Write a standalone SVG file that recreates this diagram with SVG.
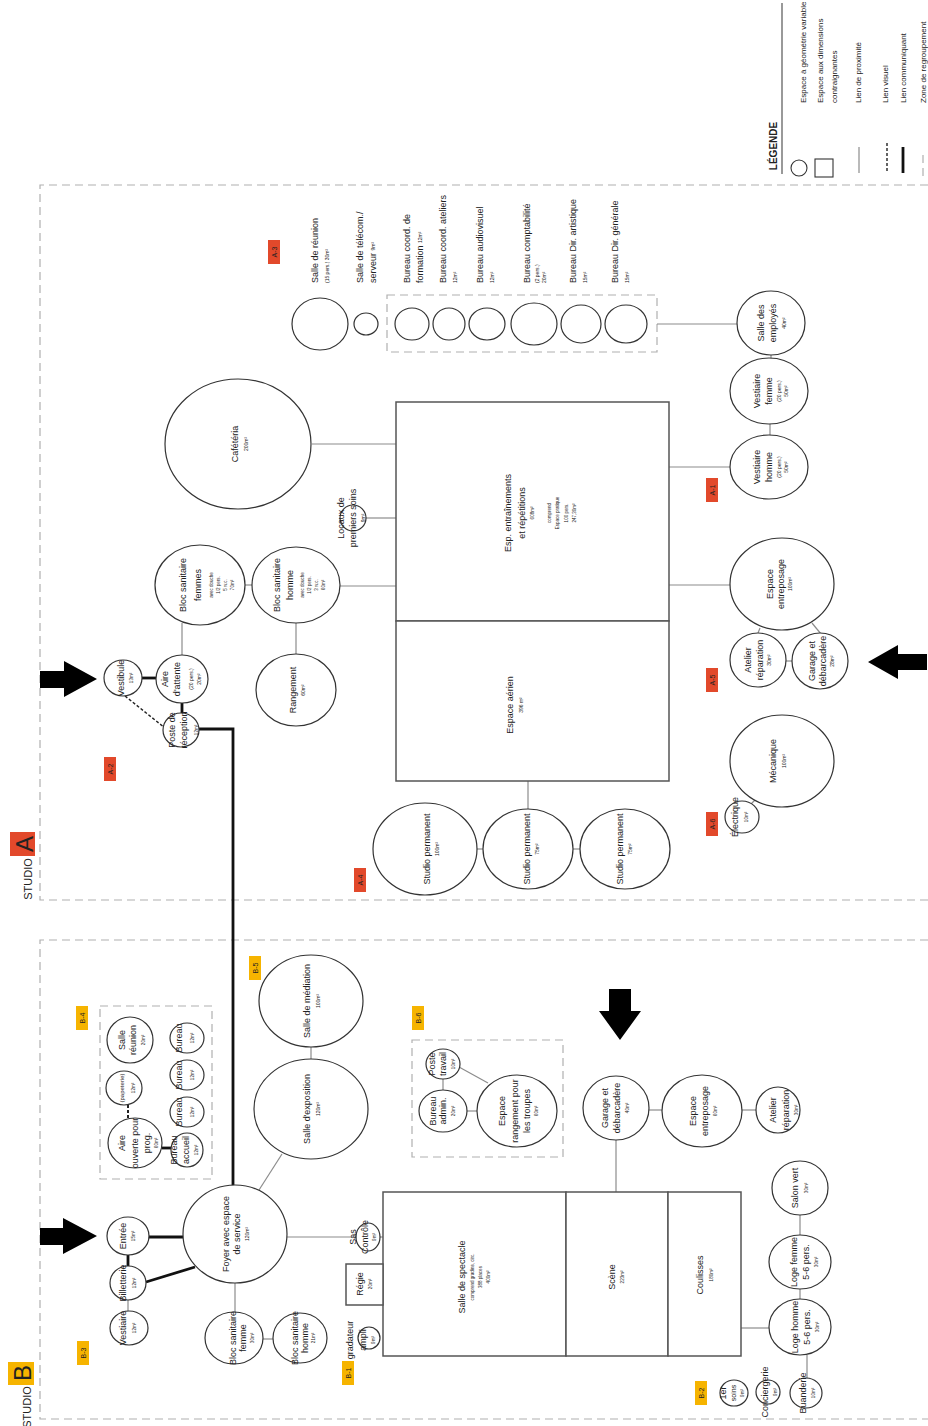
<svg xmlns="http://www.w3.org/2000/svg" width="928" height="1426" viewBox="0 0 928 1426">
<style>
.n{fill:#fff;stroke:#333;stroke-width:1.2}
.r{fill:#fff;stroke:#555;stroke-width:1.5}
.p{stroke:#8c8c8c;stroke-width:1.2;fill:none}
.k{stroke:#111;stroke-width:2.8;fill:none}
.v{stroke:#222;stroke-width:1.4;stroke-dasharray:3 2;fill:none}
.z{fill:none;stroke:#b0b0b0;stroke-width:1.2;stroke-dasharray:8 5}
text{font-family:"Liberation Sans",Arial,sans-serif;fill:#222;dominant-baseline:central}
.t{font-size:9px;text-anchor:middle}
.st{font-size:9px;text-anchor:start}
.s{font-size:5px}
.x{font-size:4.5px}
.la{fill:#e2492b}
.lb{fill:#f6b400}
.lt{font-size:7px;text-anchor:middle}
.ar{fill:#000}
</style>
<rect width="928" height="1426" fill="#fff"/>

<!-- zones -->
<g id="zones">
<path class="z" d="M928,185 H40 V900 H928"/>
<path class="z" d="M928,940 H40 V1419 H928"/>
<rect class="z" x="387" y="295" width="270" height="57"/>
<rect class="z" x="100" y="1006" width="112" height="173"/>
<rect class="z" x="412" y="1040" width="151" height="117"/>
</g>

<!-- legend -->
<g id="legend">
<line x1="782" y1="3" x2="782" y2="174" stroke="#555" stroke-width="1.2"/>
<text style="font-size:10px;font-weight:bold;text-anchor:middle" transform="translate(0 146) rotate(-90)" x="0" y="773">LÉGENDE</text>
<circle cx="799" cy="168" r="8" fill="none" stroke="#333" stroke-width="1.1"/>
<rect x="815" y="159" width="18" height="18" fill="none" stroke="#333" stroke-width="1.1"/>
<line class="p" x1="859" y1="147" x2="859" y2="173"/>
<line class="v" x1="887" y1="143" x2="887" y2="173"/>
<line class="k" x1="903" y1="147" x2="903" y2="173"/>
<line class="z" x1="923" y1="155" x2="923" y2="180"/>
<text style="font-size:8px;text-anchor:start" transform="translate(0 103) rotate(-90)"><tspan x="0" y="803">Espace à géométrie variable</tspan><tspan x="0" y="820">Espace aux dimensions</tspan><tspan x="0" y="834">contraignantes</tspan><tspan x="0" y="858">Lien de proximité</tspan><tspan x="0" y="885">Lien visuel</tspan><tspan x="0" y="903">Lien communiquant</tspan><tspan x="0" y="923">Zone de regroupement</tspan></text>
</g>

<!-- studio titles and zone labels -->
<g id="labels">
<rect class="la" x="10" y="832" width="25" height="24"/>
<text style="font-size:24px;text-anchor:middle" transform="translate(0 844) rotate(-90)" x="0" y="24">A</text>
<text style="font-size:11px;text-anchor:middle" transform="translate(0 879) rotate(-90)" x="0" y="28">STUDIO</text>
<rect class="lb" x="8" y="1362" width="26" height="23"/>
<text style="font-size:24px;text-anchor:middle" transform="translate(0 1373) rotate(-90)" x="0" y="22">B</text>
<text style="font-size:11px;text-anchor:middle" transform="translate(0 1407) rotate(-90)" x="0" y="27">STUDIO</text>

<rect class="la" x="268" y="240" width="12" height="24"/><text class="lt" transform="translate(0 252) rotate(-90)" x="0" y="274">A-3</text>
<rect class="la" x="104" y="757" width="12" height="24"/><text class="lt" transform="translate(0 769) rotate(-90)" x="0" y="110">A-2</text>
<rect class="la" x="706" y="478" width="12" height="24"/><text class="lt" transform="translate(0 490) rotate(-90)" x="0" y="712">A-1</text>
<rect class="la" x="706" y="668" width="12" height="24"/><text class="lt" transform="translate(0 680) rotate(-90)" x="0" y="712">A-5</text>
<rect class="la" x="706" y="812" width="12" height="24"/><text class="lt" transform="translate(0 824) rotate(-90)" x="0" y="712">A-6</text>
<rect class="la" x="354" y="868" width="12" height="24"/><text class="lt" transform="translate(0 880) rotate(-90)" x="0" y="360">A-4</text>
<rect class="lb" x="249" y="956" width="12" height="24"/><text class="lt" transform="translate(0 968) rotate(-90)" x="0" y="255">B-5</text>
<rect class="lb" x="76" y="1006" width="12" height="24"/><text class="lt" transform="translate(0 1018) rotate(-90)" x="0" y="82">B-4</text>
<rect class="lb" x="412" y="1006" width="12" height="24"/><text class="lt" transform="translate(0 1018) rotate(-90)" x="0" y="418">B-6</text>
<rect class="lb" x="77" y="1341" width="12" height="24"/><text class="lt" transform="translate(0 1353) rotate(-90)" x="0" y="83">B-3</text>
<rect class="lb" x="342" y="1361" width="12" height="24"/><text class="lt" transform="translate(0 1373) rotate(-90)" x="0" y="348">B-1</text>
<rect class="lb" x="695" y="1381" width="12" height="24"/><text class="lt" transform="translate(0 1393) rotate(-90)" x="0" y="701">B-2</text>
</g>

<!-- arrows -->
<g id="arrows">
<polygon class="ar" points="40,671 64,671 64,661 97,679 64,697 64,688 40,688"/>
<polygon class="ar" points="927,654 898,654 898,645 868,662 898,679 898,670 927,670"/>
<polygon class="ar" points="609,989 631,989 631,1011 641,1011 620,1040 599,1011 609,1011"/>
<polygon class="ar" points="40,1228 63,1228 63,1218 97,1236 63,1254 63,1245 40,1245"/>
</g>

<!-- connectors -->
<g id="connectors">
<line class="p" x1="312" y1="444" x2="396" y2="444"/>
<line class="p" x1="366" y1="518" x2="396" y2="518"/>
<line class="p" x1="245" y1="585" x2="252" y2="585"/>
<line class="p" x1="340" y1="586" x2="396" y2="586"/>
<line class="p" x1="182" y1="623" x2="182" y2="656"/>
<line class="p" x1="296" y1="623" x2="296" y2="654"/>
<line class="p" x1="669" y1="467" x2="730" y2="467"/>
<line class="p" x1="770" y1="423" x2="770" y2="436"/>
<line class="p" x1="771" y1="354" x2="771" y2="359"/>
<line class="p" x1="657" y1="324" x2="738" y2="324"/>
<line class="p" x1="669" y1="585" x2="730" y2="585"/>
<line class="p" x1="760" y1="628" x2="758" y2="633"/>
<line class="p" x1="812" y1="623" x2="821" y2="634"/>
<line class="p" x1="786" y1="661" x2="792" y2="661"/>
<line class="p" x1="528" y1="781" x2="528" y2="809"/>
<line class="p" x1="477" y1="849" x2="483" y2="849"/>
<line class="p" x1="573" y1="849" x2="580" y2="849"/>
<line class="p" x1="755" y1="800" x2="750" y2="805"/>
<line class="p" x1="311" y1="1047" x2="311" y2="1059"/>
<line class="p" x1="282" y1="1154" x2="259" y2="1190"/>
<line class="p" x1="287" y1="1237" x2="356" y2="1237"/>
<line class="p" x1="380" y1="1237" x2="383" y2="1237"/>
<line class="p" x1="235" y1="1283" x2="235" y2="1312"/>
<line class="p" x1="263" y1="1339" x2="273" y2="1339"/>
<line class="p" x1="128" y1="1300" x2="128" y2="1311"/>
<line class="p" x1="443" y1="1079" x2="443" y2="1090"/>
<line class="p" x1="459" y1="1067" x2="488" y2="1083"/>
<line class="p" x1="467" y1="1111" x2="477" y2="1111"/>
<line class="p" x1="616" y1="1140" x2="616" y2="1192"/>
<line class="p" x1="649" y1="1110" x2="662" y2="1110"/>
<line class="p" x1="742" y1="1110" x2="756" y2="1110"/>
<line class="p" x1="741" y1="1328" x2="769" y2="1328"/>
<line class="p" x1="800" y1="1215" x2="800" y2="1235"/>
<line class="p" x1="800" y1="1289" x2="800" y2="1299"/>
<line class="p" x1="807" y1="1355" x2="807" y2="1378"/>
<line class="k" x1="142" y1="678" x2="156" y2="678"/>
<line class="k" x1="182" y1="703" x2="182" y2="713"/>
<polyline class="k" points="199,729 233,729 233,1186"/>
<line class="k" x1="148" y1="1237" x2="183" y2="1237"/>
<line class="k" x1="128" y1="1255" x2="128" y2="1266"/>
<line class="k" x1="146" y1="1282" x2="195" y2="1267"/>
<line class="k" x1="162" y1="1148" x2="172" y2="1148"/>
<line class="v" x1="125" y1="696" x2="165" y2="728"/>
<line class="v" x1="128" y1="1105" x2="128" y2="1118" style="stroke-width:2"/>
</g>

<!-- Studio A nodes -->
<g id="salle-reunion-a"><ellipse class="n" cx="320" cy="324" rx="28" ry="26"/><text class="st" transform="translate(0 283) rotate(-90)"><tspan x="0" y="315">Salle de réunion</tspan><tspan class="s" x="0" y="327">(15 pers.) 30m²</tspan></text></g>
<g id="telecom"><ellipse class="n" cx="366" cy="324" rx="12" ry="11"/><text class="st" transform="translate(0 283) rotate(-90)"><tspan x="0" y="360">Salle de télécom./</tspan><tspan x="0" y="373">serveur <tspan class="s">9m²</tspan></tspan></text></g>
<g id="bur-formation"><ellipse class="n" cx="412" cy="324" rx="17" ry="16"/><text class="st" transform="translate(0 283) rotate(-90)"><tspan x="0" y="407">Bureau coord. de</tspan><tspan x="0" y="420">formation <tspan class="s">12m²</tspan></tspan></text></g>
<g id="bur-ateliers"><ellipse class="n" cx="449" cy="324" rx="16" ry="16"/><text class="st" transform="translate(0 283) rotate(-90)"><tspan x="0" y="443">Bureau coord. ateliers</tspan><tspan class="s" x="0" y="455">12m²</tspan></text></g>
<g id="bur-audiovisuel"><ellipse class="n" cx="487" cy="324" rx="18" ry="16"/><text class="st" transform="translate(0 283) rotate(-90)"><tspan x="0" y="480">Bureau audiovisuel</tspan><tspan class="s" x="0" y="492">12m²</tspan></text></g>
<g id="bur-compta"><ellipse class="n" cx="534" cy="324" rx="23" ry="21"/><text class="st" transform="translate(0 283) rotate(-90)"><tspan x="0" y="527">Bureau comptabilité</tspan><tspan class="s" x="0" y="537">(2 pers.)</tspan><tspan class="s" x="0" y="544">20m²</tspan></text></g>
<g id="bur-artistique"><ellipse class="n" cx="581" cy="324" rx="20" ry="19"/><text class="st" transform="translate(0 283) rotate(-90)"><tspan x="0" y="573">Bureau Dir. artistique</tspan><tspan class="s" x="0" y="585">15m²</tspan></text></g>
<g id="bur-generale"><ellipse class="n" cx="626" cy="324" rx="21" ry="19"/><text class="st" transform="translate(0 283) rotate(-90)"><tspan x="0" y="615">Bureau Dir. générale</tspan><tspan class="s" x="0" y="627">15m²</tspan></text></g>

<g id="cafeteria"><ellipse class="n" cx="238" cy="444" rx="73" ry="65"/><text class="t" transform="translate(0 444) rotate(-90)"><tspan x="0" y="235">Cafétéria</tspan><tspan class="s" x="0" y="246">200m²</tspan></text></g>
<g id="premiers-soins"><circle class="n" cx="353" cy="518" r="13"/><text class="t" transform="translate(0 518) rotate(-90)"><tspan x="0" y="341">Locaux de</tspan><tspan x="0" y="353">premiers soins</tspan><tspan class="s" x="0" y="363">9m²</tspan></text></g>
<g id="bloc-femmes-a"><ellipse class="n" cx="200" cy="585" rx="45" ry="40"/><text class="t" transform="translate(0 585) rotate(-90)"><tspan x="0" y="183">Bloc sanitaire</tspan><tspan x="0" y="198">femmes</tspan><tspan class="x" x="0" y="211">avec douche</tspan><tspan class="x" x="0" y="218">1/2 pers.</tspan><tspan class="x" x="0" y="225">5 w.c.</tspan><tspan class="x" x="0" y="232">70m²</tspan></text></g>
<g id="bloc-homme-a"><ellipse class="n" cx="296" cy="585" rx="44" ry="38"/><text class="t" transform="translate(0 585) rotate(-90)"><tspan x="0" y="277">Bloc sanitaire</tspan><tspan x="0" y="290">homme</tspan><tspan class="x" x="0" y="302">avec douche</tspan><tspan class="x" x="0" y="309">1/2 pers.</tspan><tspan class="x" x="0" y="316">3 w.c.</tspan><tspan class="x" x="0" y="323">60m²</tspan></text></g>
<g id="rangement"><ellipse class="n" cx="296" cy="690" rx="40" ry="36"/><text class="t" transform="translate(0 690) rotate(-90)"><tspan x="0" y="293">Rangement</tspan><tspan class="s" x="0" y="303">60m²</tspan></text></g>
<g id="vestibule"><ellipse class="n" cx="123" cy="678" rx="19" ry="18"/><text class="t" transform="translate(0 678) rotate(-90)"><tspan x="0" y="121">Vestibule</tspan><tspan class="x" x="0" y="131">13m²</tspan></text></g>
<g id="aire-attente"><ellipse class="n" cx="182" cy="679" rx="26" ry="24"/><text class="t" transform="translate(0 679) rotate(-90)"><tspan x="0" y="165">Aire</tspan><tspan x="0" y="177">d'attente</tspan><tspan class="s" x="0" y="191">(20 pers.)</tspan><tspan class="s" x="0" y="199">20m²</tspan></text></g>
<g id="poste-reception"><ellipse class="n" cx="181" cy="730" rx="18" ry="17"/><text class="t" transform="translate(0 730) rotate(-90)"><tspan x="0" y="172">Poste de</tspan><tspan x="0" y="184">réception</tspan><tspan class="x" x="0" y="196">12m²</tspan></text></g>
<g id="esp-entrainements"><rect class="r" x="396" y="402" width="273" height="219"/><text class="t" transform="translate(0 513) rotate(-90)"><tspan x="0" y="508">Esp. entraînements</tspan><tspan x="0" y="522">et répétitions</tspan><tspan class="x" x="0" y="532">608m²</tspan><tspan class="x" x="0" y="549">comprend</tspan><tspan class="x" x="0" y="557">Espace pratique</tspan><tspan class="x" x="0" y="566">100 pers.</tspan><tspan class="x" x="0" y="574">247,30m²</tspan></text></g>
<g id="espace-aerien"><rect class="r" x="396" y="621" width="273" height="160"/><text class="t" transform="translate(0 705) rotate(-90)"><tspan x="0" y="510">Espace aérien</tspan><tspan class="s" x="0" y="521">396 m²</tspan></text></g>
<g id="salle-employes"><ellipse class="n" cx="771" cy="323" rx="34" ry="32"/><text class="t" transform="translate(0 323) rotate(-90)"><tspan x="0" y="761">Salle des</tspan><tspan x="0" y="773">employés</tspan><tspan class="s" x="0" y="784">40m²</tspan></text></g>
<g id="vestiaire-femme-a"><ellipse class="n" cx="769" cy="391" rx="39" ry="33"/><text class="t" transform="translate(0 391) rotate(-90)"><tspan x="0" y="757">Vestiaire</tspan><tspan x="0" y="769">femme</tspan><tspan class="s" x="0" y="779">(20 pers.)</tspan><tspan class="s" x="0" y="786">50m²</tspan></text></g>
<g id="vestiaire-homme-a"><ellipse class="n" cx="769" cy="467" rx="39" ry="32"/><text class="t" transform="translate(0 467) rotate(-90)"><tspan x="0" y="757">Vestiaire</tspan><tspan x="0" y="769">homme</tspan><tspan class="s" x="0" y="779">(20 pers.)</tspan><tspan class="s" x="0" y="786">50m²</tspan></text></g>
<g id="entreposage-a"><ellipse class="n" cx="782" cy="584" rx="52" ry="46"/><text class="t" transform="translate(0 584) rotate(-90)"><tspan x="0" y="770">Espace</tspan><tspan x="0" y="781">entreposage</tspan><tspan class="s" x="0" y="790">100m²</tspan></text></g>
<g id="atelier-a"><ellipse class="n" cx="758" cy="660" rx="28" ry="27"/><text class="t" transform="translate(0 660) rotate(-90)"><tspan x="0" y="748">Atelier</tspan><tspan x="0" y="760">réparation</tspan><tspan class="s" x="0" y="769">30m²</tspan></text></g>
<g id="garage-a"><ellipse class="n" cx="820" cy="661" rx="28" ry="28"/><text class="t" transform="translate(0 661) rotate(-90)"><tspan x="0" y="812">Garage et</tspan><tspan x="0" y="823">débarcadère</tspan><tspan class="s" x="0" y="832">28m²</tspan></text></g>
<g id="mecanique"><ellipse class="n" cx="782" cy="761" rx="52" ry="46"/><text class="t" transform="translate(0 761) rotate(-90)"><tspan x="0" y="773">Mécanique</tspan><tspan class="s" x="0" y="784">100m²</tspan></text></g>
<g id="electrique"><ellipse class="n" cx="742" cy="817" rx="17" ry="16"/><text class="t" transform="translate(0 817) rotate(-90)"><tspan x="0" y="735">Électrique</tspan><tspan class="x" x="0" y="746">10m²</tspan></text></g>
<g id="studio-perm-1"><ellipse class="n" cx="425" cy="849" rx="52" ry="46"/><text class="t" transform="translate(0 849) rotate(-90)"><tspan x="0" y="427">Studio permanent</tspan><tspan class="s" x="0" y="437">100m²</tspan></text></g>
<g id="studio-perm-2"><ellipse class="n" cx="528" cy="849" rx="45" ry="40"/><text class="t" transform="translate(0 849) rotate(-90)"><tspan x="0" y="527">Studio permanent</tspan><tspan class="s" x="0" y="537">75m²</tspan></text></g>
<g id="studio-perm-3"><ellipse class="n" cx="625" cy="849" rx="45" ry="40"/><text class="t" transform="translate(0 849) rotate(-90)"><tspan x="0" y="620">Studio permanent</tspan><tspan class="s" x="0" y="630">75m²</tspan></text></g>

<!-- Studio B nodes -->
<g id="mediation"><ellipse class="n" cx="311" cy="1001" rx="52" ry="46"/><text class="t" transform="translate(0 1001) rotate(-90)"><tspan x="0" y="307">Salle de médiation</tspan><tspan class="s" x="0" y="318">100m²</tspan></text></g>
<g id="exposition"><ellipse class="n" cx="311" cy="1109" rx="57" ry="50"/><text class="t" transform="translate(0 1109) rotate(-90)"><tspan x="0" y="307">Salle d'exposition</tspan><tspan class="s" x="0" y="318">120m²</tspan></text></g>
<g id="foyer"><ellipse class="n" cx="235" cy="1234" rx="52" ry="49"/><text class="t" transform="translate(0 1234) rotate(-90)"><tspan x="0" y="226">Foyer avec espace</tspan><tspan x="0" y="237">de service</tspan><tspan class="s" x="0" y="247">120m²</tspan></text></g>
<g id="entree"><ellipse class="n" cx="128" cy="1236" rx="21" ry="19"/><text class="t" transform="translate(0 1236) rotate(-90)"><tspan x="0" y="123">Entrée</tspan><tspan class="x" x="0" y="133">15m²</tspan></text></g>
<g id="billetterie"><ellipse class="n" cx="128" cy="1283" rx="18" ry="17"/><text class="t" transform="translate(0 1283) rotate(-90)"><tspan x="0" y="123">Billetterie</tspan><tspan class="x" x="0" y="134">12m²</tspan></text></g>
<g id="vestiaire-b"><ellipse class="n" cx="129" cy="1328" rx="19" ry="17"/><text class="t" transform="translate(0 1328) rotate(-90)"><tspan x="0" y="123">Vestiaire</tspan><tspan class="x" x="0" y="134">12m²</tspan></text></g>
<g id="bloc-femme-b"><ellipse class="n" cx="234" cy="1338" rx="29" ry="26"/><text class="t" transform="translate(0 1338) rotate(-90)"><tspan x="0" y="233">Bloc sanitaire</tspan><tspan x="0" y="243">femme</tspan><tspan class="x" x="0" y="252">30m²</tspan></text></g>
<g id="bloc-homme-b"><ellipse class="n" cx="300" cy="1338" rx="27" ry="25"/><text class="t" transform="translate(0 1338) rotate(-90)"><tspan x="0" y="295">Bloc sanitaire</tspan><tspan x="0" y="305">homme</tspan><tspan class="x" x="0" y="313">21m²</tspan></text></g>
<g id="salle-reunion-b"><ellipse class="n" cx="130" cy="1040" rx="23" ry="23"/><text class="t" transform="translate(0 1040) rotate(-90)"><tspan x="0" y="122">Salle</tspan><tspan x="0" y="133">réunion</tspan><tspan class="x" x="0" y="143">20m²</tspan></text></g>
<g id="papeterie"><ellipse class="n" cx="124" cy="1088" rx="18" ry="17"/><text class="t" transform="translate(0 1088) rotate(-90)"><tspan style="font-size:6px" x="0" y="122">(papeterie)</tspan><tspan class="x" x="0" y="133">12m²</tspan></text></g>
<g id="aire-ouverte"><ellipse class="n" cx="135" cy="1143" rx="27" ry="25"/><text class="t" transform="translate(0 1143) rotate(-90)"><tspan x="0" y="122">Aire</tspan><tspan x="0" y="135">ouverte pour</tspan><tspan x="0" y="147">prog.</tspan><tspan class="x" x="0" y="156">60m²</tspan></text></g>
<g id="bureau-1"><ellipse class="n" cx="187" cy="1038" rx="17" ry="15"/><text class="t" transform="translate(0 1038) rotate(-90)"><tspan x="0" y="179">Bureau</tspan><tspan class="x" x="0" y="192">12m²</tspan></text></g>
<g id="bureau-2"><ellipse class="n" cx="187" cy="1075" rx="17" ry="15"/><text class="t" transform="translate(0 1075) rotate(-90)"><tspan x="0" y="179">Bureau</tspan><tspan class="x" x="0" y="192">12m²</tspan></text></g>
<g id="bureau-3"><ellipse class="n" cx="187" cy="1112" rx="17" ry="15"/><text class="t" transform="translate(0 1112) rotate(-90)"><tspan x="0" y="179">Bureau</tspan><tspan class="x" x="0" y="192">12m²</tspan></text></g>
<g id="bureau-accueil"><ellipse class="n" cx="187" cy="1150" rx="16" ry="17"/><text class="t" transform="translate(0 1150) rotate(-90)"><tspan x="0" y="174">Bureau</tspan><tspan x="0" y="186">accueil</tspan><tspan class="x" x="0" y="196">12m²</tspan></text></g>
<g id="poste-travail"><ellipse class="n" cx="443" cy="1064" rx="17" ry="15"/><text class="t" transform="translate(0 1064) rotate(-90)"><tspan x="0" y="432">Poste</tspan><tspan x="0" y="443">travail</tspan><tspan class="x" x="0" y="453">10m²</tspan></text></g>
<g id="bureau-admin"><ellipse class="n" cx="443" cy="1111" rx="24" ry="21"/><text class="t" transform="translate(0 1111) rotate(-90)"><tspan x="0" y="433">Bureau</tspan><tspan x="0" y="443">admin.</tspan><tspan class="x" x="0" y="453">20m²</tspan></text></g>
<g id="rangement-troupes"><ellipse class="n" cx="517" cy="1111" rx="40" ry="36"/><text class="t" transform="translate(0 1111) rotate(-90)"><tspan x="0" y="502">Espace</tspan><tspan x="0" y="515">rangement pour</tspan><tspan x="0" y="527">les troupes</tspan><tspan class="x" x="0" y="536">60m²</tspan></text></g>
<g id="garage-b"><ellipse class="n" cx="616" cy="1108" rx="33" ry="32"/><text class="t" transform="translate(0 1108) rotate(-90)"><tspan x="0" y="605">Garage et</tspan><tspan x="0" y="617">débarcadère</tspan><tspan class="x" x="0" y="627">40m²</tspan></text></g>
<g id="entreposage-b"><ellipse class="n" cx="702" cy="1111" rx="40" ry="36"/><text class="t" transform="translate(0 1111) rotate(-90)"><tspan x="0" y="693">Espace</tspan><tspan x="0" y="705">entreposage</tspan><tspan class="x" x="0" y="715">60m²</tspan></text></g>
<g id="atelier-b"><ellipse class="n" cx="778" cy="1110" rx="22" ry="23"/><text class="t" transform="translate(0 1110) rotate(-90)"><tspan x="0" y="773">Atelier</tspan><tspan x="0" y="786">réparation</tspan><tspan class="x" x="0" y="796">30m²</tspan></text></g>
<g id="salle-spectacle"><rect class="r" x="383" y="1192" width="183" height="164"/><text class="t" transform="translate(0 1277) rotate(-90)"><tspan x="0" y="462">Salle de spectacle</tspan><tspan class="x" x="0" y="472">comprend gradins, circ.</tspan><tspan class="x" x="0" y="480">388 places</tspan><tspan class="x" x="0" y="488">400m²</tspan></text></g>
<g id="scene"><rect class="r" x="566" y="1192" width="102" height="164"/><text class="t" transform="translate(0 1277) rotate(-90)"><tspan x="0" y="612">Scène</tspan><tspan class="x" x="0" y="622">223m²</tspan></text></g>
<g id="coulisses"><rect class="r" x="668" y="1192" width="73" height="164"/><text class="t" transform="translate(0 1275) rotate(-90)"><tspan x="0" y="700">Coulisses</tspan><tspan class="x" x="0" y="711">180m²</tspan></text></g>
<g id="sas-controle"><ellipse class="n" cx="368" cy="1237" rx="12" ry="14"/><text class="t" transform="translate(0 1237) rotate(-90)"><tspan x="0" y="353">Sas</tspan><tspan x="0" y="365">Contrôle</tspan><tspan class="x" x="0" y="374">9m²</tspan></text></g>
<g id="regie"><rect class="r" x="346" y="1264" width="37" height="41"/><text class="t" transform="translate(0 1284) rotate(-90)"><tspan x="0" y="360">Régie</tspan><tspan class="x" x="0" y="370">20m²</tspan></text></g>
<g id="gradateur"><circle class="n" cx="369" cy="1338" r="11"/><text class="t" transform="translate(0 1340) rotate(-90)"><tspan x="0" y="350">gradateur</tspan><tspan x="0" y="363">ampli</tspan><tspan class="x" x="0" y="373">9m²</tspan></text></g>
<g id="salon-vert"><ellipse class="n" cx="800" cy="1188" rx="28" ry="27"/><text class="t" transform="translate(0 1188) rotate(-90)"><tspan x="0" y="795">Salon vert</tspan><tspan class="x" x="0" y="806">30m²</tspan></text></g>
<g id="loge-femme"><ellipse class="n" cx="800" cy="1262" rx="31" ry="27"/><text class="t" transform="translate(0 1262) rotate(-90)"><tspan x="0" y="794">Loge femme</tspan><tspan x="0" y="806">5-6 pers.</tspan><tspan class="x" x="0" y="816">30m²</tspan></text></g>
<g id="loge-homme"><ellipse class="n" cx="800" cy="1327" rx="31" ry="28"/><text class="t" transform="translate(0 1327) rotate(-90)"><tspan x="0" y="795">Loge homme</tspan><tspan x="0" y="807">5-6 pers.</tspan><tspan class="x" x="0" y="817">30m²</tspan></text></g>
<g id="soins-b"><ellipse class="n" cx="734" cy="1393" rx="14" ry="13"/><text class="t" transform="translate(0 1393) rotate(-90)"><tspan x="0" y="723">1er</tspan><tspan style="font-size:7px" x="0" y="733">soins</tspan><tspan class="x" x="0" y="742">9m²</tspan></text></g>
<g id="conciergerie"><ellipse class="n" cx="768" cy="1392" rx="12" ry="12"/><text class="t" transform="translate(0 1392) rotate(-90)"><tspan x="0" y="765">Conciergerie</tspan><tspan class="x" x="0" y="775">9m²</tspan></text></g>
<g id="buanderie"><ellipse class="n" cx="806" cy="1393" rx="16" ry="15"/><text class="t" transform="translate(0 1393) rotate(-90)"><tspan x="0" y="803">Buanderie</tspan><tspan class="x" x="0" y="813">10m²</tspan></text></g>
</svg>
